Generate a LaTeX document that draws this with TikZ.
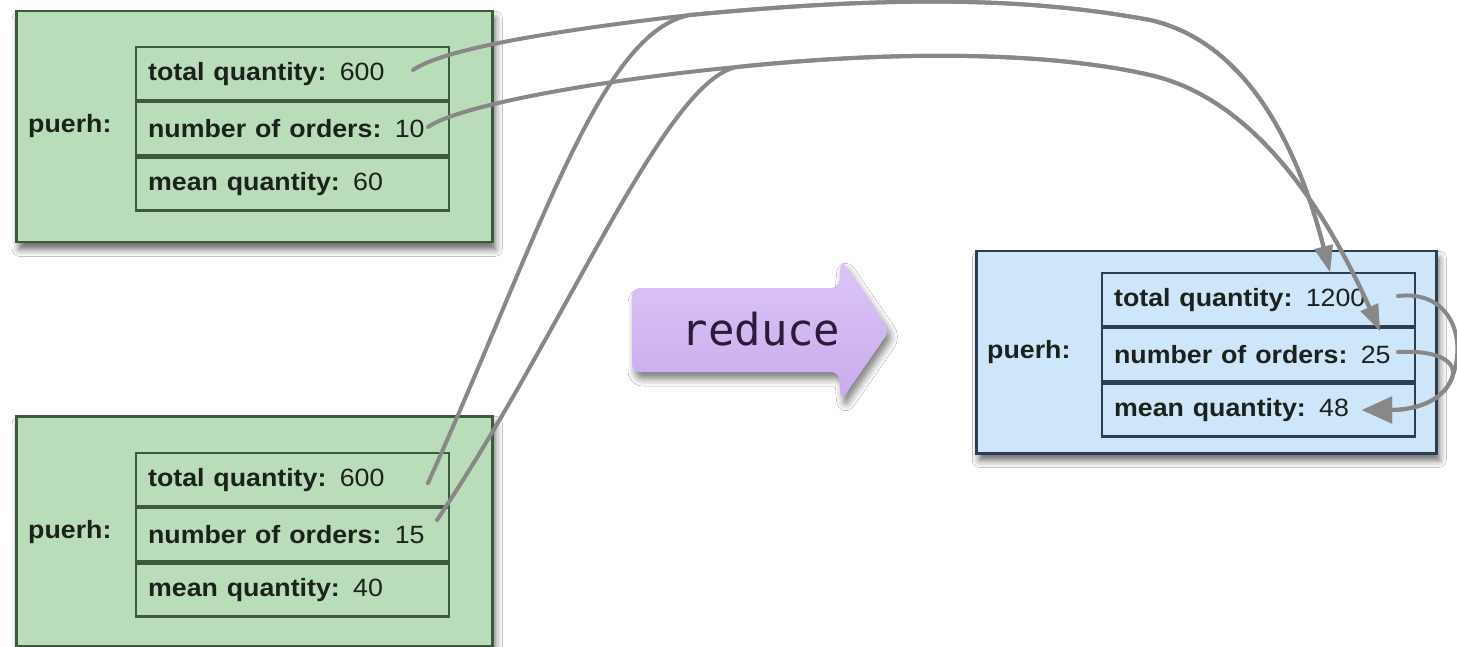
\documentclass[tikz,border=0pt]{standalone}
\usepackage{fontspec}
\setmainfont{Liberation Sans}
\newfontfamily\monofnt{DejaVu Sans Mono}
\usepackage{graphicx}
\usetikzlibrary{arrows.meta,shadows.blur}
\definecolor{gfill}{HTML}{B9DCB9}
\definecolor{gline}{HTML}{3C5A3C}
\definecolor{bfill}{HTML}{CDE6FA}
\definecolor{bline}{HTML}{2C3F52}
\definecolor{conncol}{HTML}{888888}
\definecolor{txtcol}{HTML}{1C211C}
\definecolor{redtop}{HTML}{DCC6F6}
\definecolor{redbot}{HTML}{C9AAEC}
\definecolor{redtxt}{HTML}{2A1B3A}
\newcommand\rowtxt[2]{\scalebox{1.07}[1]{\textbf{#1} #2}}
\newcommand\plabtxt{\scalebox{1.07}[1]{\textbf{puerh:}}}
\begin{document}
\begin{tikzpicture}[x=1pt,y=-1pt,
  outerbox/.style={anchor=north west, line width=2.5pt, inner sep=0pt,
    blur shadow={shadow xshift=3pt, shadow yshift=-7pt, shadow blur radius=7pt, shadow opacity=60}},
  gbox/.style={outerbox, draw=gline, fill=gfill},
  bbox/.style={outerbox, draw=bline, fill=bfill},
  rowbox/.style={anchor=north west, line width=2.2pt, minimum width=313pt, minimum height=53pt,
    text width=289pt, inner xsep=12pt, inner ysep=0pt, align=left, text=txtcol,
    font=\fontsize{25}{30}\selectfont},
  growbox/.style={rowbox, draw=gline},
  browbox/.style={rowbox, draw=bline},
  plab/.style={anchor=west, text=txtcol, inner sep=0pt, font=\fontsize{25}{30}\selectfont},
  conn/.style={draw=conncol, line width=4pt, line cap=round},
  smalltip/.style={-{Triangle[length=26pt,width=18pt]}},
  bigtip/.style={-{Triangle[length=30pt,width=26pt]}}
]
\clip (0,0) rectangle (1457,647);
\fill[white] (0,0) rectangle (1457,647);

% top green box
\node[gbox, minimum width=476pt, minimum height=231pt] (g1) at (15,10) {};
\node[growbox] (g1a) at (135,46) {\rowtxt{total quantity:}{600}};
\node[growbox, anchor=north] (g1b) at (g1a.south) {\rowtxt{number of orders:}{10}};
\node[growbox, anchor=north] (g1c) at (g1b.south) {\rowtxt{mean quantity:}{60}};
\node[plab] (g1p) at (28,126) {\plabtxt};

% bottom green box
\node[gbox, minimum width=476pt, minimum height=230pt] (g2) at (15,415) {};
\node[growbox] (g2a) at (135,452) {\rowtxt{total quantity:}{600}};
\node[growbox, anchor=north] (g2b) at (g2a.south) {\rowtxt{number of orders:}{15}};
\node[growbox, anchor=north] (g2c) at (g2b.south) {\rowtxt{mean quantity:}{40}};
\node[plab] (g2p) at (28,532) {\plabtxt};

% blue box
\node[bbox, minimum width=460pt, minimum height=202pt] (b) at (975,250) {};
\node[browbox] (ba) at (1101,272) {\rowtxt{total quantity:}{1200}};
\node[browbox, anchor=north] (bb) at (ba.south) {\rowtxt{number of orders:}{25}};
\node[browbox, anchor=north] (bc) at (bb.south) {\rowtxt{mean quantity:}{48}};
\node[plab] (bp) at (987,352) {\plabtxt};

% reduce arrow
\path[top color=redtop, bottom color=redbot, rounded corners=8pt,
  blur shadow={shadow xshift=3pt, shadow yshift=-7pt, shadow blur radius=7pt, shadow opacity=50}]
  (632,288) -- (839,288) -- (841,259) -- (890,330) -- (841,401) -- (839,372) -- (632,372) -- cycle;
\node[anchor=base, inner sep=0pt, text=redtxt, font=\monofnt\fontsize{44}{50}\selectfont] (red) at (761,345) {reduce};

% connector points
\coordinate (s1) at (413,70);
\coordinate (s2) at (428,127);
\coordinate (s3) at (428,483);
\coordinate (s4) at (437,520);
\coordinate (m1) at (690,15);
\coordinate (m2) at (737,67);
\coordinate (k1) at (1150,20);
\coordinate (k2) at (1150,75);
\coordinate (t1) at (1330,272);
\coordinate (t2) at (1380,331);
\coordinate (r1) at (1398,296);
\coordinate (r2) at (1398,352);
\coordinate (j) at (1452,378);
\coordinate (t3) at (1362,410);

% connectors
\draw[conn, smalltip] (s1) .. controls (445,48) and (560,30) .. (m1)
  .. controls (900,-5) and (1030,-2) .. (k1)
  .. controls (1260,45) and (1305,175) .. (t1);
\draw[conn, smalltip] (s3) .. controls (540,235) and (600,32) .. (m1)
  .. controls (900,-5) and (1030,-2) .. (k1)
  .. controls (1260,45) and (1305,175) .. (t1);
\draw[conn, smalltip] (s2) .. controls (460,105) and (600,80) .. (m2)
  .. controls (900,50) and (1050,52) .. (k2)
  .. controls (1260,100) and (1330,220) .. (t2);
\draw[conn, smalltip] (s4) .. controls (565,330) and (665,80) .. (m2)
  .. controls (900,50) and (1050,52) .. (k2)
  .. controls (1260,100) and (1330,220) .. (t2);
\draw[conn, bigtip] (r1) .. controls (1448,290) and (1468,335) .. (j)
  .. controls (1442,404) and (1410,410) .. (t3);
\draw[conn, bigtip] (r2) .. controls (1435,350) and (1458,360) .. (j)
  .. controls (1442,404) and (1410,410) .. (t3);
\end{tikzpicture}
\end{document}
